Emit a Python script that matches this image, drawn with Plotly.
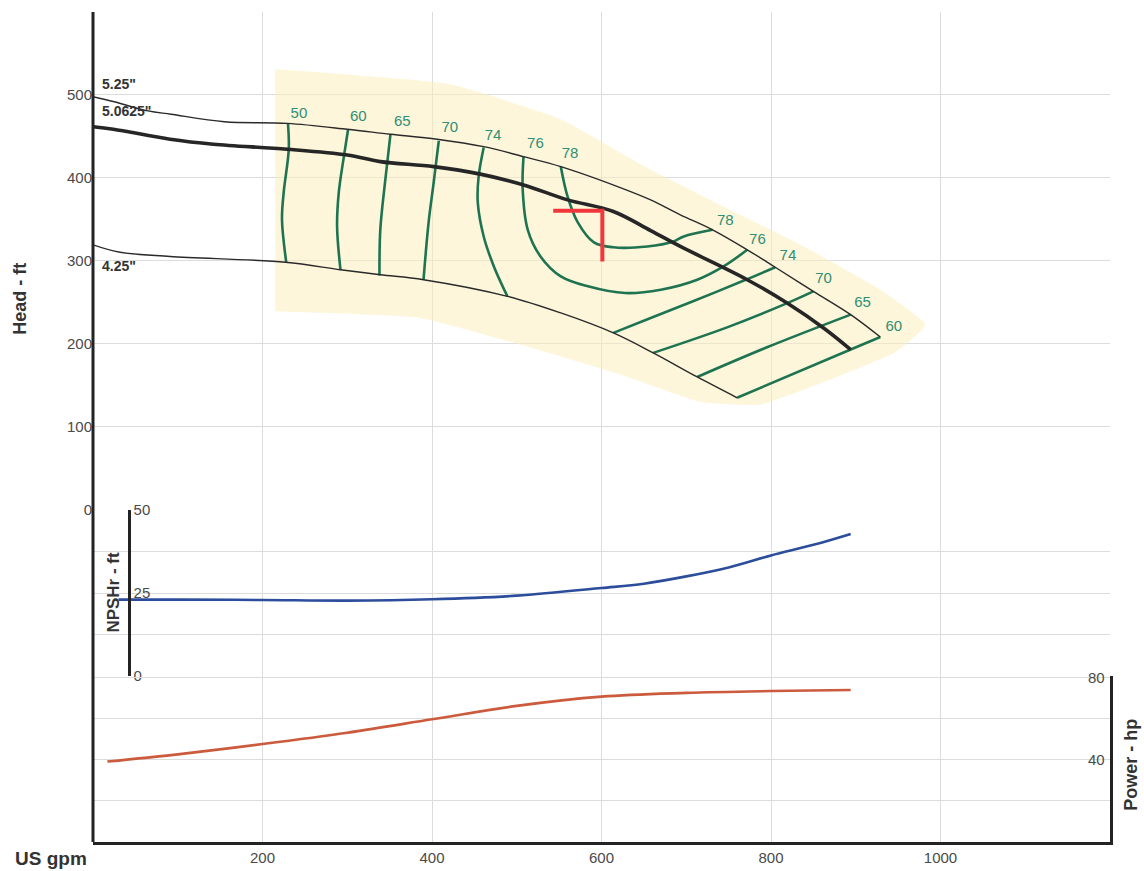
import plotly.graph_objects as go

# ---------------- data ----------------
# Head curves (US gpm, ft)
d525_gpm = [0, 25, 65, 92, 155, 229, 300, 351, 406, 461, 508, 552, 619, 658, 693, 731, 772, 805, 850, 894, 929]
d525_head = [497, 491, 480, 476, 467, 465, 458, 452, 446, 437, 425, 413, 389, 373, 355, 337, 313, 292, 263, 235, 208]

d50625_gpm = [0, 24, 91, 142, 229, 300, 339, 402, 457, 508, 560, 614, 658, 693, 772, 819, 862, 894]
d50625_head = [461, 458, 446, 440, 434, 427, 419, 413, 404, 391, 373, 359, 336, 317, 277, 249, 219, 193]

d425_gpm = [0, 32, 91, 227, 292, 339, 390, 489, 552, 614, 661, 713, 760]
d425_head = [319, 310, 305, 298, 289, 283, 277, 257, 237, 213, 189, 160, 135]

# Iso-efficiency lines (%), each a list of (gpm, head) pieces
eff_lines = {
    "50L": ([230, 231, 225, 223, 228], [465, 434, 382, 349, 298]),
    "60L": ([301, 296, 290, 288, 292], [458, 425, 382, 341, 289]),
    "65L": ([351, 345, 339, 338], [452, 398, 337, 282]),
    "70L": ([408, 402, 396, 390], [444, 394, 346, 277]),
    "74L": ([461, 455, 454, 461, 473, 489], [436, 401, 370, 329, 293, 257]),
    "76": ([508, 507, 513, 528, 552, 584, 628, 670, 713, 744, 772],
           [425, 386, 337, 305, 281, 269, 261, 265, 277, 293, 313]),
    "78": ([552, 560, 572, 591, 614, 654, 685, 697, 731],
           [413, 377, 346, 322, 316, 317, 323, 329, 337]),
    "74R": ([614, 658, 708, 768, 805], [213, 231, 251, 276, 292]),
    "70R": ([661, 749, 815, 850], [189, 220, 247, 263]),
    "65R": ([713, 796, 894], [160, 196, 235]),
    "60R": ([760, 894, 929], [135, 193, 208]),
}
eff_label_text = ["50", "60", "65", "70", "74", "76", "78", "78", "76", "74", "70", "65", "60"]
eff_label_gpm = [243, 313, 365, 421, 472, 522, 563, 746, 784, 820, 862, 908, 945]
eff_label_head = [476, 472, 466, 459, 449, 440, 428, 347, 325, 305, 277, 249, 220]

# Preferred operating region shading
region_gpm = [215, 422, 552, 646, 740, 835, 929, 982, 947, 788, 717, 622, 504, 386, 215]
region_head = [530, 512, 470, 416, 367, 319, 265, 223, 190, 127, 130, 163, 199, 231, 239]

# Duty point marker
duty_gpm = [543, 601, 601]
duty_head = [360, 360, 299]

# NPSHr curve (ft)
npsh_gpm = [30, 100, 200, 300, 400, 500, 600, 650, 700, 750, 800, 850, 894]
npsh_ft = [23, 23, 22.9, 22.7, 23.1, 24.2, 26.5, 27.8, 30, 32.7, 36.3, 39.5, 42.8]

# Power curve (hp)
power_gpm = [17, 100, 200, 300, 400, 500, 600, 700, 800, 894]
power_hp = [39, 42.5, 47.5, 53, 59.5, 66, 70.5, 72.3, 73.2, 73.7]

# Axis ticks
x_ticks = [200, 400, 600, 800, 1000, 1200]
x_ticktext = ["200", "400", "600", "800", "1000", ""]
head_ticks = [0, 100, 200, 300, 400, 500]
npsh_ticks = [0, 12.5, 25, 37.5, 50]
npsh_ticktext = ["0", "", "25", "", "50"]
power_grid = [20, 40, 60, 80]
power_labels = [40, 80]

# ---------------- figure ----------------
FONT = "Liberation Sans, Arial, sans-serif"
GRID = "#dcdcdc"
AXC = "#232323"
EFF_C = "#1e7450"
EFF_T = "#2f8f74"

fig = go.Figure()

fig.add_trace(go.Scatter(x=region_gpm, y=region_head, mode="lines", fill="toself",
                         fillcolor="rgba(252,238,190,0.55)", line=dict(width=0),
                         line_shape="spline", line_smoothing=0.4,
                         hoverinfo="skip", yaxis="y"))

for name, (gx, gy) in eff_lines.items():
    fig.add_trace(go.Scatter(x=gx, y=gy, mode="lines", line=dict(color=EFF_C, width=2.6),
                             line_shape="spline", yaxis="y"))

fig.add_trace(go.Scatter(x=d525_gpm, y=d525_head, mode="lines",
                         line=dict(color="#2a2a2a", width=1.4), line_shape="spline", yaxis="y"))
fig.add_trace(go.Scatter(x=d425_gpm, y=d425_head, mode="lines",
                         line=dict(color="#2a2a2a", width=1.4), line_shape="spline", yaxis="y"))
fig.add_trace(go.Scatter(x=d50625_gpm, y=d50625_head, mode="lines",
                         line=dict(color="#262626", width=3.6), line_shape="spline", yaxis="y"))

fig.add_trace(go.Scatter(x=duty_gpm, y=duty_head, mode="lines",
                         line=dict(color="#f0383c", width=4), yaxis="y"))

fig.add_trace(go.Scatter(x=eff_label_gpm, y=eff_label_head, text=eff_label_text, mode="text",
                         textfont=dict(family=FONT, size=15, color=EFF_T), yaxis="y"))

fig.add_trace(go.Scatter(x=npsh_gpm, y=npsh_ft, mode="lines",
                         line=dict(color="#2c4d9c", width=2.6), line_shape="spline", yaxis="y2"))
fig.add_trace(go.Scatter(x=power_gpm, y=power_hp, mode="lines",
                         line=dict(color="#cc5a3c", width=2.6), line_shape="spline", yaxis="y3"))

tickfont = dict(family=FONT, size=15, color="#4a4a4a")

fig.update_layout(
    width=1144, height=871,
    margin=dict(l=92.5, r=34, t=12, b=29, autoexpand=False),
    paper_bgcolor="white", plot_bgcolor="white",
    showlegend=False,
    font=dict(family=FONT),
    xaxis=dict(range=[0, 1200], tickvals=x_ticks, ticktext=x_ticktext, showgrid=True,
               gridcolor=GRID, gridwidth=1, zeroline=False, showline=True, linewidth=3,
               linecolor=AXC, anchor="y3", ticks="", tickfont=tickfont, automargin=False),
    yaxis=dict(domain=[0.4, 1], range=[0, 599], tickvals=head_ticks, showgrid=True,
               gridcolor=GRID, zeroline=False, showline=False, anchor="x", ticks="",
               tickfont=tickfont, automargin=False),
    yaxis2=dict(domain=[0.2, 0.4], range=[0, 50], tickvals=npsh_ticks, ticktext=npsh_ticktext,
                showgrid=True, gridcolor=GRID, zeroline=False, showline=True, linewidth=3,
                linecolor=AXC, anchor="free", position=0.035, side="right", ticks="",
                tickfont=tickfont, automargin=False),
    yaxis3=dict(domain=[0, 0.2], range=[0, 80.5], tickvals=power_grid, showticklabels=False,
                showgrid=True, gridcolor=GRID, zeroline=False, showline=True, linewidth=3,
                linecolor=AXC, anchor="x", side="right", ticks="", automargin=False),
    shapes=[dict(type="line", xref="paper", yref="paper", x0=0, x1=0, y0=0, y1=1.0,
                 line=dict(color=AXC, width=3))],
)

for v in power_labels:
    fig.add_annotation(text=str(v), x=1, y=v, xref="paper", yref="y3", xanchor="right",
                       yanchor="middle", xshift=-3, showarrow=False, font=tickfont)

bold = dict(family=FONT, size=18, color="#333")
annots = [
    dict(text="<b>Head - ft</b>", x=-0.0713, y=0.655, textangle=-90, font=bold, xanchor="center"),
    dict(text="<b>NPSHr - ft</b>", x=0.0201, y=0.301, textangle=-90, xanchor="center",
         font=dict(family=FONT, size=17, color="#333")),
    dict(text="<b>Power - hp</b>", x=1.0206, y=0.093, textangle=-90, font=bold, xanchor="center"),
    dict(text="<b>US gpm</b>", x=-0.0791, y=-0.0193, xanchor="left",
         font=dict(family=FONT, size=19, color="#333")),
]
for a in annots:
    a.update(xref="paper", yref="paper", showarrow=False, yanchor="middle")
    fig.add_annotation(**a)

lab = dict(family=FONT, size=14, color="#333")
for txt, yy in [("<b>5.25\"</b>", 512), ("<b>5.0625\"</b>", 480), ("<b>4.25\"</b>", 294)]:
    fig.add_annotation(text=txt, x=8, y=yy, xref="x", yref="y", xanchor="left",
                       yanchor="middle", showarrow=False, font=lab)

fig.write_html("out.html", config={"displayModeBar": False},
               post_script="document.body.style.margin='0';document.body.style.overflow='hidden';")
